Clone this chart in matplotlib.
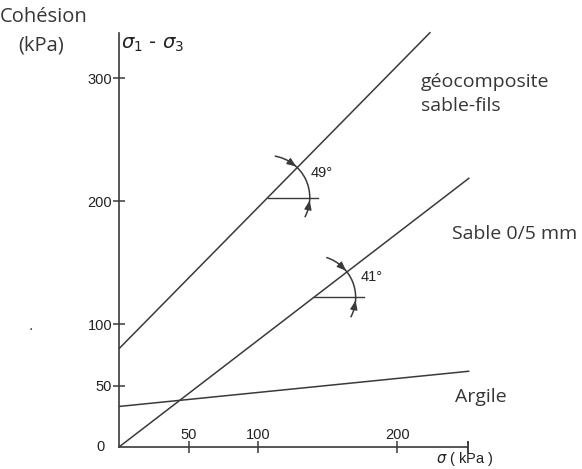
import numpy as np
import matplotlib.pyplot as plt
import matplotlib.transforms as mtransforms
from matplotlib.patches import Arc

# Mohr-Coulomb envelopes: cohesion intercept (kPa), friction angle (deg), end of line (kPa)
names = ['géocomposite\nsable-fils', 'Sable 0/5 mm', 'Argile']
cohesion = [80, 0, 33]
phi = [49, 41, 6.5]
sigma_end = [224, 252, 252]

# angle markers: where the horizontal starts on the line (sigma, kPa)
mark_sigma = [107, 140]
mark_phi_txt = ['49°', '41°']
mark_txt_off = [(0.43, 0.25), (0.47, 0.20)]

xticks = [50, 100, 200]
yticks = [50, 100, 200, 300]

line_col = '#3a3a3a'
txt_col = '#363636'
num_col = '#222222'
num_font = 'Liberation Sans'

fig = plt.figure(figsize=(5.82, 4.69), dpi=100)
ax = fig.add_axes([119 / 582, 22 / 469, 349 / 582, 414 / 469])
ax.set_xlim(0, 251)
ax.set_ylim(0, 337)
for s in ['top', 'right']:
    ax.spines[s].set_visible(False)
for s in ['left', 'bottom']:
    ax.spines[s].set_color(line_col)
    ax.spines[s].set_linewidth(1.2)

for c, p, xe in zip(cohesion, phi, sigma_end):
    xs = np.array([0, xe])
    ax.plot(xs, c + np.tan(np.radians(p)) * xs, color=line_col, lw=1.1,
            solid_capstyle='butt', clip_on=False)

ax.set_xticks(xticks)
ax.set_yticks(yticks)
ax.tick_params(axis='y', direction='inout', length=8, width=1.1, color=line_col,
               labelsize=10.5, labelcolor=num_col, pad=1)
ax.tick_params(axis='x', direction='inout', length=8, width=1.1, color=line_col,
               labelsize=10.5, labelcolor=num_col, pad=-18)
for lab in ax.get_xticklabels() + ax.get_yticklabels():
    lab.set_family(num_font)
ax.text(-10, 0, '0', ha='right', va='center', fontsize=10.5, family=num_font,
        color=num_col)
# end mark of sigma axis
ax.plot([251, 251], [0, 0], marker='|', ms=8, mew=1.1, color=line_col, clip_on=False)

# angle markers
fig.canvas.draw()
r_in = 0.42
for i in range(2):
    x0 = mark_sigma[i]
    y0 = cohesion[i] + np.tan(np.radians(phi[i])) * x0
    trans = fig.dpi_scale_trans + mtransforms.ScaledTranslation(x0, y0, ax.transData)
    p0 = ax.transData.transform((x0, y0))
    p1 = ax.transData.transform((x0 + 50, y0 + np.tan(np.radians(phi[i])) * 50))
    vis = np.degrees(np.arctan2(p1[1] - p0[1], p1[0] - p0[0]))
    ax.plot([x0, x0 + 36], [y0, y0], color=line_col, lw=1.0)
    ax.add_patch(Arc((0, 0), 2 * r_in, 2 * r_in, theta1=-28, theta2=vis + 35,
                     transform=trans, color=line_col, lw=1.1))
    for a_from, a_to in [(vis + 15, vis + 2), (-17, -4)]:
        pa = (r_in * np.cos(np.radians(a_from)), r_in * np.sin(np.radians(a_from)))
        pb = (r_in * np.cos(np.radians(a_to)), r_in * np.sin(np.radians(a_to)))
        ax.annotate('', xy=pb, xycoords=trans, xytext=pa, textcoords=trans,
                    arrowprops=dict(arrowstyle='-|>,head_length=0.55,head_width=0.22',
                                    color=line_col, lw=0.9, shrinkA=0, shrinkB=0))
    ax.annotate(mark_phi_txt[i], xy=(0, 0), xycoords=trans,
                xytext=mark_txt_off[i], textcoords=trans, fontsize=10.5,
                family=num_font, color=num_col, va='center')

# texts
fig.text(0.0, 1 - 17 / 469, 'Cohésion', fontsize=14.5, family='Open Sans',
         color=txt_col, va='center', ha='left')
fig.text(18 / 582, 1 - 45 / 469, '(kPa)', fontsize=14.5, family='Open Sans',
         color=txt_col, va='center', ha='left')
fig.text(121 / 582, 1 - 45 / 469, r'$\sigma_1$ - $\sigma_3$', fontsize=14,
         color=num_col, va='center', ha='left')
fig.text(465 / 582, 1 - 459 / 469, r'$\sigma$ ( kPa )', fontsize=10.5,
         color=num_col, va='center', ha='center', family=num_font)
fig.text(421 / 582, 1 - 94 / 469, names[0], fontsize=14, family='Open Sans',
         color=txt_col, va='center', ha='left', linespacing=1.4)
fig.text(452 / 582, 1 - 234 / 469, names[1], fontsize=14, family='Open Sans',
         color=txt_col, va='center', ha='left')
fig.text(455 / 582, 1 - 397 / 469, names[2], fontsize=14, family='Open Sans',
         color=txt_col, va='center', ha='left')
fig.text(31 / 582, 1 - 333 / 469, '.', fontsize=10, color='#333333', ha='center',
         va='bottom')

fig.savefig('out.png', dpi=100)
